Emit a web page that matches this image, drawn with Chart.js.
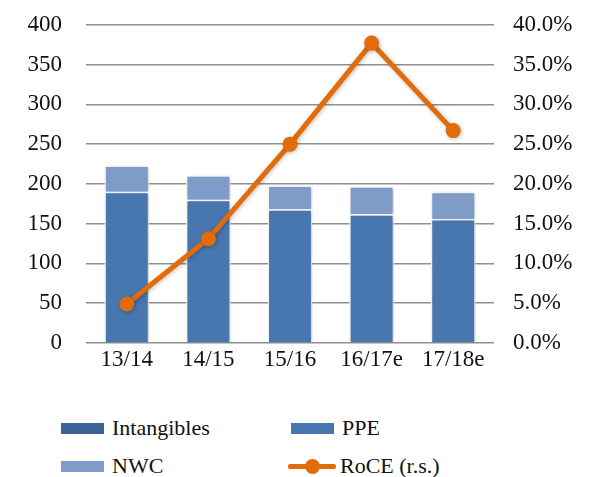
<!DOCTYPE html>
<html>
<head>
<meta charset="utf-8">
<script src="https://cdn.jsdelivr.net/npm/chart.js@4"></script>
<style>
  html, body { margin: 0; padding: 0; background: #ffffff; }
  body { width: 593px; height: 477px; position: relative; overflow: hidden; font-family: "Liberation Serif", "DejaVu Serif", serif; }
  #wrap { position: absolute; left: 0; top: -13px; width: 593px; height: 414px; }
  #legend { position: absolute; left: 0; top: 415px; width: 593px; height: 62px; }
  .item { position: absolute; display: flex; align-items: center; font-size: 22px; color: #111; white-space: nowrap; }
  .swatch { width: 43px; height: 11px; margin-right: 8px; }
  .lineSw { position: relative; width: 48px; height: 11px; margin-right: 4px; }
  .lineSw .ln { position: absolute; left: 0; right: 0; top: 3px; height: 5px; background: #E36C0A; border-radius: 2px; }
  .lineSw .dot { position: absolute; left: 17px; top: -2px; width: 15px; height: 15px; border-radius: 50%; background: #E36C0A; }
</style>
</head>
<body>
<div id="wrap"><canvas id="c" width="593" height="414"></canvas></div>
<div id="legend"></div>
<script>
// Fiscal years
const categories = ['13/14', '14/15', '15/16', '16/17e', '17/18e'];
// Capital employed components (left scale)
const intangibles = [0, 0, 0, 0, 0];
const ppe = [190, 180, 168, 162, 156];
const nwc = [33, 31, 30, 35, 34];
// Return on capital employed in % (right scale)
const roce = [4.9, 13.1, 25.0, 37.7, 26.7];
// Axis ticks
const leftTicks = [0, 50, 100, 150, 200, 250, 300, 350, 400];
const rightTicks = [0, 5, 10, 15, 20, 25, 30, 35, 40];

const FONT = { family: '"Liberation Serif", "DejaVu Serif", serif', size: 23 };
const TEXT = '#111111';
const GRID = '#8f8f8f';

// soft drop shadow under bars and the line
const shadowPlugin = {
  id: 'softShadow',
  beforeDatasetDraw(chart) {
    const ctx = chart.ctx;
    ctx.save();
    ctx.shadowColor = 'rgba(0,0,0,0.25)';
    ctx.shadowBlur = 4;
    ctx.shadowOffsetX = 1;
    ctx.shadowOffsetY = 1;
  },
  afterDatasetDraw(chart) {
    chart.ctx.restore();
  }
};

const chart = new Chart(document.getElementById('c'), {
  data: {
    labels: categories,
    datasets: [
      { type: 'line', label: 'RoCE (r.s.)', data: roce, yAxisID: 'y1', order: 0,
        borderColor: '#E36C0A', backgroundColor: '#E36C0A', borderWidth: 5,
        pointRadius: 7.5, pointHoverRadius: 7.5, pointBorderWidth: 0, tension: 0 },
      { type: 'bar', label: 'Intangibles', data: intangibles, yAxisID: 'y', order: 1,
        backgroundColor: '#3C6596', borderColor: '#ffffff', borderWidth: 0 },
      { type: 'bar', label: 'PPE', data: ppe, yAxisID: 'y', order: 1,
        backgroundColor: '#4876AE', borderColor: '#ffffff', borderWidth: 1.5 },
      { type: 'bar', label: 'NWC', data: nwc, yAxisID: 'y', order: 1,
        backgroundColor: '#7F9CC8', borderColor: '#ffffff', borderWidth: 1.5 }
    ]
  },
  options: {
    responsive: false,
    animation: false,
    devicePixelRatio: 1,
    layout: { autoPadding: false, padding: { top: 24, left: 0, right: 0, bottom: 0 } },
    datasets: { bar: { categoryPercentage: 1.0, barPercentage: 0.55 } },
    plugins: { legend: { display: false }, tooltip: { enabled: false } },
    scales: {
      x: {
        stacked: true,
        grid: { display: false, drawTicks: false },
        border: { display: false },
        ticks: { font: FONT, color: TEXT, padding: 3 },
        afterFit(s) { s.height = 58; }
      },
      y: {
        stacked: true, position: 'left', min: 0, max: 400,
        afterBuildTicks(s) { s.ticks = leftTicks.map(v => ({ value: v })); },
        grid: { color: GRID, lineWidth: 1.5, drawTicks: false },
        border: { display: false },
        ticks: { font: FONT, color: TEXT, padding: 24 },
        afterFit(s) { s.width = 86; }
      },
      y1: {
        position: 'right', min: 0, max: 40,
        afterBuildTicks(s) { s.ticks = rightTicks.map(v => ({ value: v })); },
        grid: { display: false, drawTicks: false },
        border: { display: false },
        ticks: { font: FONT, color: TEXT, padding: 19, callback: v => v.toFixed(1) + '%' },
        afterFit(s) { s.width = 99; }
      }
    }
  },
  plugins: [shadowPlugin]
});

// two-column legend built from the chart's datasets
const legendPos = {
  'Intangibles': [61, 0], 'PPE': [291, 0], 'NWC': [61, 38], 'RoCE (r.s.)': [288, 38]
};
const legendOrder = ['Intangibles', 'PPE', 'NWC', 'RoCE (r.s.)'];
const legendEl = document.getElementById('legend');
legendOrder.forEach(name => {
  const ds = chart.data.datasets.find(d => d.label === name);
  const item = document.createElement('div');
  item.className = 'item';
  item.style.left = legendPos[name][0] + 'px';
  item.style.top = legendPos[name][1] + 'px';
  let sw;
  if (ds.type === 'line') {
    sw = document.createElement('div');
    sw.className = 'lineSw';
    sw.innerHTML = '<div class="ln"></div><div class="dot"></div>';
  } else {
    sw = document.createElement('div');
    sw.className = 'swatch';
    sw.style.background = ds.backgroundColor;
  }
  const t = document.createElement('span');
  t.textContent = ds.label;
  item.appendChild(sw);
  item.appendChild(t);
  legendEl.appendChild(item);
});
</script>
</body>
</html>
